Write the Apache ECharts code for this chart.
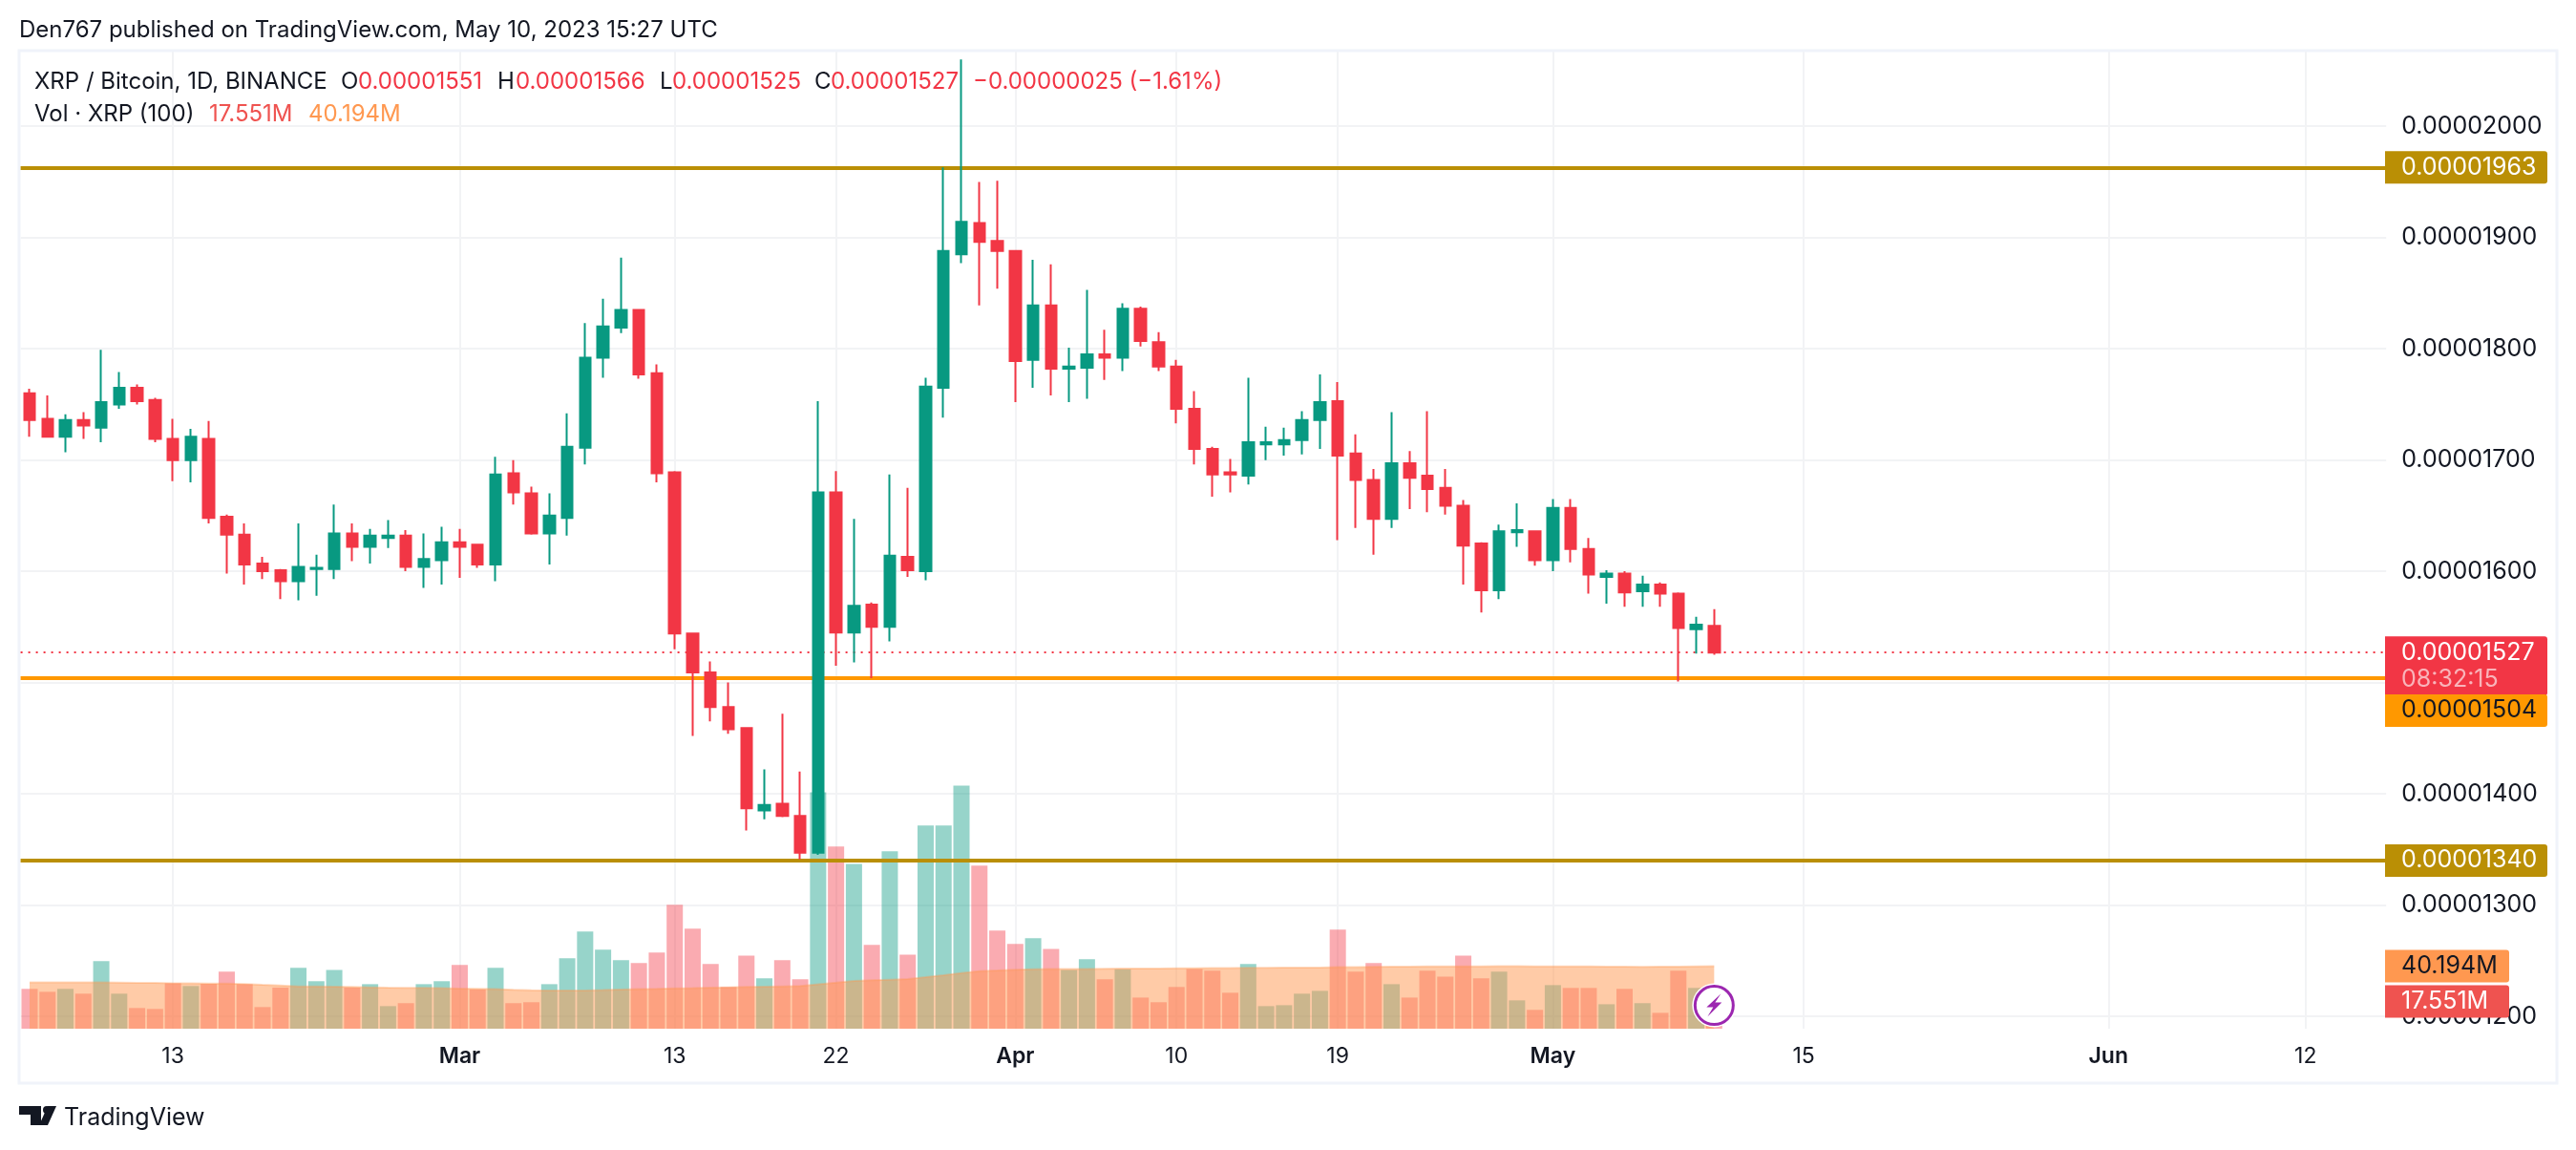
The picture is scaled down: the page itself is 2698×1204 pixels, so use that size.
<!DOCTYPE html>
<html>
<head>
<meta charset="utf-8">
<title>XRP / Bitcoin</title>
<style>
html, body { margin: 0; padding: 0; background: #fff; }
#main { width: 2698px; height: 1204px; }
</style>
<script src="https://cdn.jsdelivr.net/npm/echarts@6/dist/echarts.min.js"></script>
</head>
<body>
<div id="main"></div>
<script>
// prices are in 1e-8 BTC, volumes in millions of XRP, first candle is 5 Feb 2023
var opens = [1760,1737,1721,1736,1729,1750,1765,1754,1719,1700,1719,1649,1633,1607,1601,1591,1602,1602,1634,1622,1630,1632,1604,1610,1626,1624,1606,1688,1670,1634,1648,1711,1792,1819,1835,1778,1689,1544,1509,1478,1459,1385,1391,1380,1347,1671,1545,1570,1550,1613,1600,1765,1885,1913,1897,1888,1790,1839,1782,1783,1795,1792,1836,1806,1784,1746,1710,1689,1686,1714,1714,1718,1736,1753,1706,1682,1647,1697,1686,1675,1659,1625,1583,1635,1636,1610,1657,1620,1595,1598,1582,1588,1580,1548,1551];
var closes = [1736,1721,1736,1731,1752,1765,1753,1719,1700,1721,1648,1633,1606,1600,1591,1604,1603,1634,1622,1632,1632,1604,1611,1626,1622,1606,1687,1671,1634,1650,1712,1792,1820,1835,1777,1688,1544,1509,1478,1458,1387,1390,1380,1347,1671,1545,1569,1550,1614,1601,1766,1888,1914,1896,1888,1789,1839,1782,1784,1795,1792,1836,1807,1784,1746,1710,1687,1687,1716,1716,1718,1736,1752,1704,1682,1647,1697,1684,1674,1659,1623,1583,1636,1637,1610,1657,1620,1597,1598,1581,1588,1580,1549,1552,1527];
var lows = [1721,1720,1707,1719,1716,1746,1750,1716,1681,1680,1643,1598,1588,1593,1575,1574,1578,1593,1609,1607,1621,1600,1585,1588,1594,1603,1591,1660,1633,1606,1632,1696,1774,1814,1773,1680,1530,1452,1465,1454,1367,1377,1379,1341,1345,1515,1518,1504,1537,1595,1592,1738,1877,1839,1854,1752,1765,1758,1752,1755,1772,1780,1802,1780,1733,1696,1667,1671,1678,1700,1704,1705,1710,1628,1639,1615,1639,1656,1653,1651,1588,1563,1575,1622,1605,1600,1608,1580,1571,1568,1568,1568,1501,1526,1525];
var highs = [1764,1758,1741,1743,1799,1779,1768,1756,1737,1728,1735,1651,1643,1613,1602,1643,1615,1660,1643,1638,1646,1637,1634,1640,1638,1624,1703,1700,1676,1670,1742,1823,1845,1882,1835,1786,1690,1545,1519,1500,1460,1422,1472,1420,1753,1690,1647,1572,1687,1675,1774,1963,2060,1950,1951,1888,1880,1876,1801,1853,1817,1841,1838,1815,1790,1762,1712,1701,1774,1730,1729,1744,1777,1770,1723,1692,1743,1708,1744,1692,1664,1626,1642,1661,1636,1665,1665,1630,1601,1600,1596,1590,1581,1559,1566];
var volumes = [25.6,23.7,25.6,22.5,43.4,22.5,13.3,12.7,29.2,27.4,28.8,36.6,28.6,13.9,26.4,39.1,30.5,37.8,26.4,28.6,14.5,16.4,28.6,30.5,40.9,25.2,39.1,16.4,17.0,28.6,45.2,62.4,50.7,44.0,42.1,48.9,79.6,64.2,41.5,26.8,47.0,32.3,44.0,31.7,151.9,117.0,105.9,53.8,113.9,47.6,130.5,130.5,156.2,104.7,63.0,54.4,58.1,51.3,37.8,44.6,31.7,38.2,20.0,17.0,26.8,38.4,37.2,23.1,41.5,14.5,15.1,22.5,24.3,63.6,36.6,42.1,28.6,20.0,37.2,33.5,47.0,32.3,36.6,18.2,12.1,28.0,26.2,26.2,15.7,25.6,16.4,10.2,37.2,26.2,17.551];
var volumeMa = [29.7,29.7,29.7,29.7,29.7,29.6,29.5,29.4,29.2,29.1,29.0,29.0,28.7,28.2,27.8,27.2,27.1,27.0,26.8,26.6,26.4,26.3,26.2,26.0,25.8,25.6,25.4,25.0,24.7,24.5,24.5,24.6,24.8,25.1,25.4,25.6,25.9,26.1,26.4,26.6,26.8,27.0,27.2,27.4,28.6,29.6,30.7,31.1,31.5,31.9,33.1,34.4,35.8,37.0,37.4,37.9,38.2,38.3,38.4,38.4,38.5,38.6,38.7,38.7,38.8,38.8,38.9,39.0,39.1,39.1,39.2,39.3,39.3,39.5,39.6,39.7,39.8,39.9,40.0,40.0,40.1,40.1,40.2,40.2,40.1,40.1,40.0,40.0,39.9,39.9,39.7,39.8,39.9,40.1,40.194];
var tickDates = ['02-13','03-01','03-13','03-22','04-01','04-10','04-19','05-01','05-15','06-01','06-12'];
var tickLabels = ['13','Mar','13','22','Apr','10','19','May','15','Jun','12'];
var priceLevels = [1963, 1504, 1340];
var levelColors = ['#BA8F05', '#FF9800', '#BA8F05'];
var lastPrice = 1527;

var UP = '#089981', DOWN = '#F23645', INK = '#131722', MA = '#FF9850';
var FONT = 'Inter, "Noto Sans", sans-serif';

// daily categories, the axis runs on past the last candle
var categories = [];
for (var d = 0; d < 132; d++) {
    var day = new Date(Date.UTC(2023, 1, 5 + d));
    categories.push(day.toISOString().slice(5, 10));
}

var candles = [], volumeBars = [];
for (var i = 0; i < opens.length; i++) {
    candles.push([opens[i], closes[i], lows[i], highs[i]]);
    volumeBars.push({
        value: volumes[i],
        itemStyle: { color: closes[i] >= opens[i] ? 'rgba(8,153,129,0.42)' : 'rgba(242,54,69,0.42)' }
    });
}

function isTick(index, value) {
    return tickDates.indexOf(value) >= 0;
}
function priceText(v) {
    return (v / 1e8).toFixed(8);
}

var levelLines = priceLevels.map(function(v, k) {
    return { yAxis: v, lineStyle: { color: levelColors[k], width: 4, type: 'solid' } };
});
levelLines.push({ yAxis: lastPrice, lineStyle: { color: DOWN, width: 2, type: [2, 6] } });

var myChart = echarts.init(document.getElementById('main'), null, { renderer: 'canvas' });
var gridLeft = 21.6, gridWidth = 2477.6;

myChart.setOption({
    animation: false,
    backgroundColor: '#fff',
    textStyle: { fontFamily: FONT },
    grid: [
        { left: gridLeft, width: gridWidth, top: 53, height: 1011 },
        { left: gridLeft, width: gridWidth, top: 53, height: 1024 }
    ],
    xAxis: [{
        type: 'category', gridIndex: 0, data: categories, show: false
    }, {
        type: 'category', gridIndex: 1, data: categories,
        axisLine: { show: false },
        axisTick: { show: false },
        splitLine: { show: true, interval: isTick, alignWithLabel: true, lineStyle: { color: '#F2F3F5', width: 2 } },
        axisLabel: {
            interval: isTick, margin: 18, fontSize: 23, color: INK, fontFamily: FONT,
            hideOverlap: false,
            formatter: function(value) {
                var label = tickLabels[tickDates.indexOf(value)];
                return /[a-z]/.test(label) ? '{b|' + label + '}' : label;
            },
            rich: { b: { fontSize: 23, fontWeight: 600, color: INK, fontFamily: FONT } }
        }
    }],
    yAxis: [{
        type: 'value', gridIndex: 0, position: 'right', min: 1200, max: 2068, interval: 100,
        axisLine: { show: false },
        axisTick: { show: false },
        splitLine: { lineStyle: { color: '#F2F3F5', width: 2 } },
        axisLabel: { margin: 16, fontSize: 25, color: INK, fontFamily: FONT, showMaxLabel: false, formatter: priceText }
    }, {
        type: 'value', gridIndex: 1, min: 0, max: 628.2, show: false, splitLine: { show: false }
    }],
    series: [{
        name: 'Vol', type: 'bar', xAxisIndex: 1, yAxisIndex: 1, z: 1, barWidth: 17,
        data: volumeBars
    }, {
        name: 'Vol MA', type: 'line', xAxisIndex: 1, yAxisIndex: 1, z: 2, symbol: 'none',
        data: volumeMa,
        lineStyle: { color: MA, width: 2, opacity: 0.35 },
        areaStyle: { color: MA, opacity: 0.5 }
    }, {
        name: 'XRP / Bitcoin', type: 'candlestick', xAxisIndex: 0, yAxisIndex: 0, z: 10, barWidth: 12,
        data: candles,
        itemStyle: { color: UP, color0: DOWN, borderColor: UP, borderColor0: DOWN, borderWidth: 2 },
        markLine: {
            silent: true, symbol: 'none', label: { show: false },
            data: levelLines
        }
    }]
});

// tags on the price scale, legend and the rest of the TradingView furniture
// shift: the orange tag is pushed down below the last price tag
var priceTags = [
    { value: 1963, text: '0.00001963', fill: '#BA8F05', color: '#fff', shift: 0 },
    { value: 1504, text: '0.00001504', fill: '#FF9800', color: '#131722', shift: 34 },
    { value: 1340, text: '0.00001340', fill: '#BA8F05', color: '#fff', shift: 0 }
];
var volumeTags = [
    { value: 40.194, text: '40.194M', fill: '#FF9850', color: '#131722' },
    { value: 17.551, text: '17.551M', fill: '#EF5350', color: '#fff' }
];

function label(x, y, text, color, size, weight) {
    return {
        type: 'text', x: x, y: y, z: 50,
        style: {
            text: text, fill: color, font: (weight || 400) + ' ' + (size || 24) + 'px ' + FONT,
            textVerticalAlign: 'middle', textBaseline: 'middle'
        }
    };
}
function tag(top, height, width, fill) {
    return { type: 'rect', z: 40, shape: { x: 2498, y: top, width: width, height: height, r: [0, 3, 3, 0] }, style: { fill: fill } };
}

var items = [
    label(20, 32, 'Den767 published on TradingView.com, May 10, 2023 15:27 UTC', INK),
    label(36, 86, 'XRP / Bitcoin, 1D, BINANCE', INK),
    label(357, 86, 'O', INK), label(375, 86, '0.00001551', DOWN),
    label(521, 86, 'H', INK), label(540, 86, '0.00001566', DOWN),
    label(691, 86, 'L', INK), label(704, 86, '0.00001525', DOWN),
    label(853, 86, 'C', INK), label(870, 86, '0.00001527', DOWN),
    label(1019, 86, '\u22120.00000025 (\u22121.61%)', DOWN),
    label(36, 120, 'Vol \u00b7 XRP (100)', INK),
    label(219, 120, '17.551M', '#EF5350'),
    label(323, 120, '40.194M', MA),
    {
        type: 'rect', z: 0, silent: true,
        shape: { x: 20, y: 53, width: 2658, height: 1081 },
        style: { fill: 'none', stroke: '#F0F3FA', lineWidth: 3 }
    }
];

var lastY = myChart.convertToPixel({ yAxisIndex: 0 }, lastPrice);
items.push(tag(lastY - 17, 62, 170, DOWN));
items.push(label(2515, lastY, '0.00001527', '#fff', 25));
items.push(label(2515, lastY + 28, '08:32:15', '#F9B4BA', 25));
priceTags.forEach(function(p) {
    var y = myChart.convertToPixel({ yAxisIndex: 0 }, p.value) + p.shift;
    items.push(tag(y - 17, 34, 170, p.fill));
    items.push(label(2515, y, p.text, p.color, 25));
});
volumeTags.forEach(function(p) {
    var y = myChart.convertToPixel({ yAxisIndex: 1 }, p.value);
    items.push(tag(y - 17, 34, 130, p.fill));
    items.push(label(2515, y, p.text, p.color, 25));
});

// lightning badge sits on the last bar
var badge = myChart.convertToPixel({ xAxisIndex: 1, yAxisIndex: 1 }, [categories[94], 15]);
items.push({ type: 'circle', z: 45, shape: { cx: badge[0], cy: badge[1], r: 23 }, style: { fill: '#fff' } });
items.push({ type: 'circle', z: 46, shape: { cx: badge[0], cy: badge[1], r: 20 }, style: { fill: '#fff', stroke: '#9C27B0', lineWidth: 3 } });
items.push({
    type: 'polygon', z: 47,
    shape: { points: [[badge[0] + 7, badge[1] - 12], [badge[0] - 8, badge[1] + 2], [badge[0] - 1, badge[1] + 2], [badge[0] - 7, badge[1] + 12], [badge[0] + 8, badge[1] - 3], [badge[0] + 1, badge[1] - 3]] },
    style: { fill: '#9C27B0' }
});

// logo
items.push({ type: 'polygon', z: 47, shape: { points: [[20, 1158], [43, 1158], [43, 1178], [32, 1178], [32, 1167], [20, 1167]] }, style: { fill: INK } });
items.push({ type: 'circle', z: 47, shape: { cx: 49, cy: 1162, r: 4 }, style: { fill: INK } });
items.push({ type: 'polygon', z: 47, shape: { points: [[50, 1158], [59, 1158], [50, 1178], [41, 1178]] }, style: { fill: INK } });
items.push(label(67, 1170, 'TradingView', INK, 25));

myChart.setOption({ graphic: { elements: items } });
</script>
</body>
</html>
